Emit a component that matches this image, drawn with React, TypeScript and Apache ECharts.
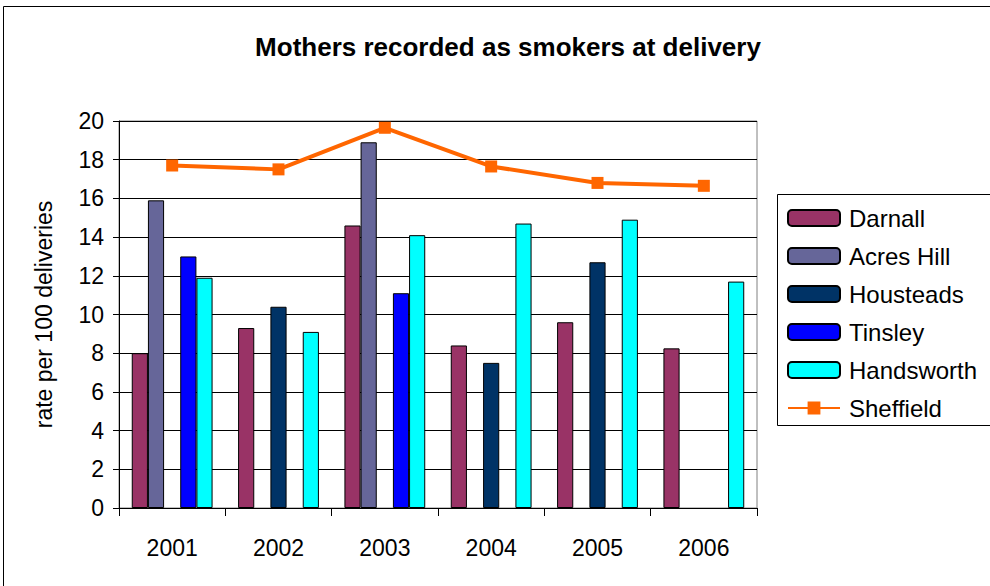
import React, { useEffect, useRef } from "react";
import * as echarts from "echarts";

const years = ["2001", "2002", "2003", "2004", "2005", "2006"];
const darnall = [8.0, 9.3, 14.6, 8.4, 9.6, 8.25];
const acresHill = [15.9, null, 18.9, null, null, null];
const housteads = [null, 10.4, null, 7.5, 12.7, null];
const tinsley = [13.0, null, 11.1, null, null, null];
const handsworth = [11.9, 9.1, 14.1, 14.7, 14.9, 11.7];
const sheffield = [17.7, 17.5, 19.65, 17.65, 16.8, 16.65];

const FONT = "Liberation Sans, Arial, sans-serif";

export default function App() {
  const ref = useRef<HTMLDivElement>(null);
  useEffect(() => {
    const chart = echarts.init(ref.current!, null, { renderer: "svg" });
    const bar = (name: string, data: any[], color: string) => ({
      name,
      type: "bar",
      data,
      barGap: "0%",
      barCategoryGap: "24%",
      itemStyle: { color, borderColor: "#000", borderWidth: 1 },
    });
    chart.setOption({
      animation: false,
      backgroundColor: "#fff",
      textStyle: { fontFamily: FONT },
      title: {
        text: "Mothers recorded as smokers at delivery",
        left: 503,
        textAlign: "center",
        top: 29,
        textStyle: { fontFamily: FONT, fontSize: 26, fontWeight: "bold", color: "#000" },
      },
      graphic: [
        {
          type: "rect",
          shape: { x: 3.5, y: 6.5, width: 1000, height: 600 },
          style: { fill: "none", stroke: "#000", lineWidth: 1 },
          silent: true,
        },
        {
          type: "rect",
          shape: { x: 777.5, y: 194.5, width: 220, height: 231 },
          style: { fill: "#fff", stroke: "#000", lineWidth: 1 },
          silent: true,
          z: -1,
        },
      ],
      legend: {
        orient: "vertical",
        left: 782,
        top: 201,
        itemWidth: 52,
        itemHeight: 16,
        itemGap: 14,
        textStyle: { fontFamily: FONT, fontSize: 24, color: "#000", padding: [0, 0, 0, 4] },
        data: ["Darnall", "Acres Hill", "Housteads", "Tinsley", "Handsworth", "Sheffield"],
      },
      grid: { left: 119, top: 121, width: 638, height: 387, show: true, borderColor: "#808080", borderWidth: 1 },
      xAxis: {
        type: "category",
        data: years,
        axisLine: { lineStyle: { color: "#000", width: 1 } },
        axisTick: { show: true, length: 8, lineStyle: { color: "#000" } },
        axisLabel: { fontFamily: FONT, fontSize: 23, color: "#000", margin: 28 },
      },
      yAxis: {
        type: "value",
        min: 0,
        max: 20,
        interval: 2,
        name: "rate per 100 deliveries",
        nameLocation: "middle",
        nameGap: 64,
        nameTextStyle: { fontFamily: FONT, fontSize: 23, color: "#000" },
        axisLine: { show: true, lineStyle: { color: "#000", width: 1 } },
        axisTick: { show: true, length: 6, lineStyle: { color: "#000" } },
        axisLabel: { fontFamily: FONT, fontSize: 23, color: "#000", margin: 15 },
        splitLine: { show: true, lineStyle: { color: "#000", width: 1 } },
      },
      series: [
        bar("Darnall", darnall, "#993366"),
        bar("Acres Hill", acresHill, "#666699"),
        bar("Housteads", housteads, "#003366"),
        bar("Tinsley", tinsley, "#0000FF"),
        bar("Handsworth", handsworth, "#00FFFF"),
        {
          name: "Sheffield",
          type: "line",
          data: sheffield,
          symbol: "rect",
          symbolSize: 12,
          lineStyle: { color: "#FF6600", width: 4 },
          itemStyle: { color: "#FF6600" },
          z: 5,
        },
      ],
    });
    return () => chart.dispose();
  }, []);
  return (
    <div
      ref={ref}
      style={{ position: "fixed", left: 0, top: 0, width: 990, height: 586 }}
    />
  );
}
